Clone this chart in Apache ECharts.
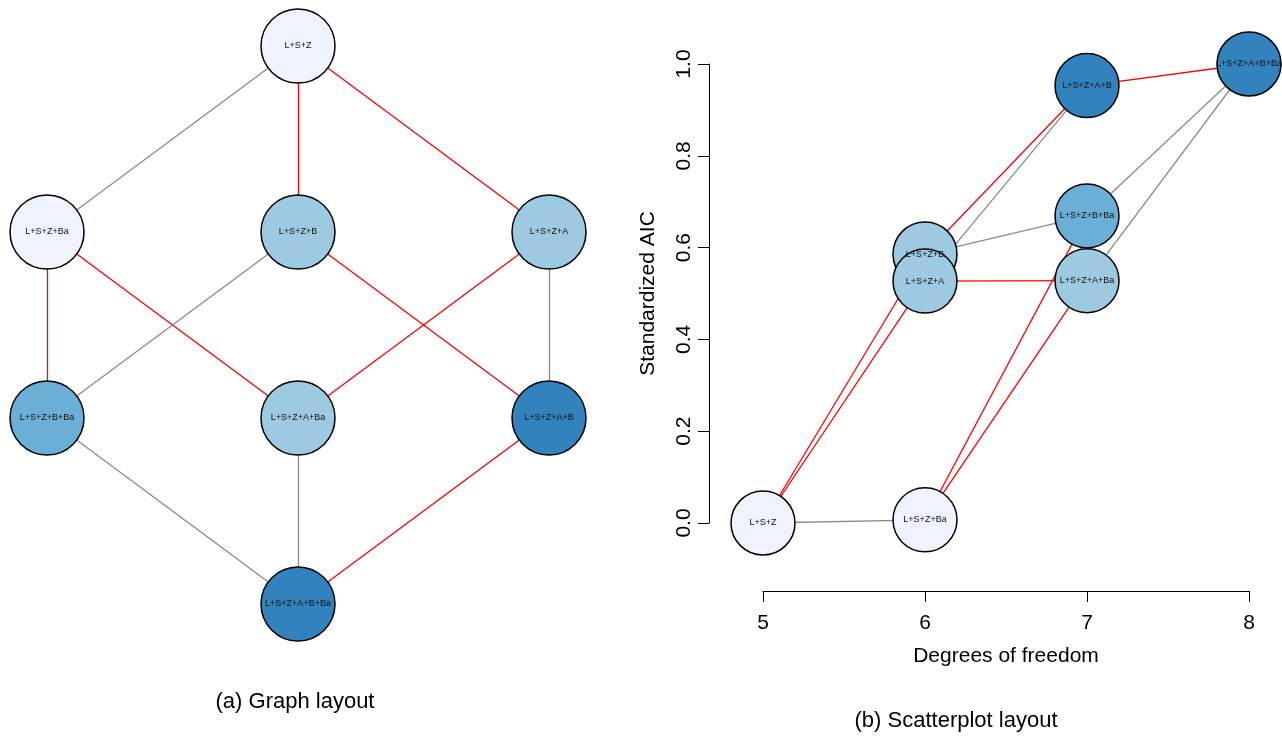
<!DOCTYPE html>
<html>
<head>
<meta charset="utf-8">
<script src="https://cdn.jsdelivr.net/npm/echarts@6/dist/echarts.min.js"></script>
<style>
html,body{margin:0;padding:0;background:#fff;}
#chart{width:1282px;height:736px;}
</style>
</head>
<body>
<div id="chart"></div>
<script>
// ---- data ----
const nodeNames = ['L+S+Z','L+S+Z+Ba','L+S+Z+B','L+S+Z+A','L+S+Z+B+Ba','L+S+Z+A+Ba','L+S+Z+A+B','L+S+Z+A+B+Ba'];
const nodeShade = [0, 0, 1, 1, 2, 1, 3, 3];
// lattice layout (graph layout panel)
const latticeLevel = [0, 1, 1, 1, 2, 2, 2, 3];
const latticeColumn = [1, 0, 1, 2, 0, 1, 2, 1];
// scatterplot layout panel
const degreesOfFreedom = [5, 6, 6, 6, 7, 7, 7, 8];
const standardizedAIC = [0.000, 0.007, 0.586, 0.527, 0.669, 0.528, 0.953, 1.000];
// edges
const edgeSource = [0, 0, 0, 1, 1, 2, 2, 3, 3, 4, 5, 6];
const edgeTarget = [1, 2, 3, 4, 5, 4, 6, 5, 6, 7, 7, 7];
const edgeSignificant = [false, true, true, true, true, false, true, true, false, false, false, true];
const xTicks = [5, 6, 7, 8];
const yTicks = [0, 0.2, 0.4, 0.6, 0.8, 1.0];

// ---- styles ----
const palette = ['#eff3ff', '#9ecae1', '#6baed6', '#3182bd'];
const FONT = "'Liberation Sans', Arial, Helvetica, sans-serif";

function makeNodes(xs, ys) {
  return nodeNames.map((n, i) => ({
    name: n,
    value: [xs[i], ys[i]],
    itemStyle: { color: palette[nodeShade[i]] }
  }));
}
const links = edgeSource.map((s, i) => ({
  source: s, target: edgeTarget[i],
  lineStyle: { color: edgeSignificant[i] ? '#ff0000' : '#8a8a8a', width: 1.3, opacity: 1, curveness: 0 }
}));

const chart = echarts.init(document.getElementById('chart'), null, { renderer: 'canvas' });
const axisBlack = { onZero: false, lineStyle: { color: '#000', width: 1 } };
chart.setOption({
  animation: false,
  backgroundColor: '#fff',
  textStyle: { fontFamily: FONT },
  grid: [
    { left: 47, top: 46, width: 502, height: 558 },
    { left: 763, top: 64, width: 486, height: 459 }
  ],
  xAxis: [
    { gridIndex: 0, type: 'value', min: 0, max: 2, show: false },
    { gridIndex: 1, type: 'value', min: xTicks[0], max: xTicks[xTicks.length - 1], interval: 1,
      offset: 68, position: 'bottom',
      axisLine: axisBlack, axisTick: { show: true, length: 11, lineStyle: { color: '#000' } },
      axisLabel: { fontSize: 21, color: '#000', margin: 22, fontFamily: FONT },
      splitLine: { show: false },
      name: 'Degrees of freedom', nameLocation: 'middle', nameGap: 55,
      nameTextStyle: { fontSize: 21, color: '#000', fontFamily: FONT } }
  ],
  yAxis: [
    { gridIndex: 0, type: 'value', min: 0, max: 3, inverse: true, show: false },
    { gridIndex: 1, type: 'value', min: yTicks[0], max: yTicks[yTicks.length - 1], interval: 0.2,
      offset: 54, position: 'left',
      axisLine: axisBlack, axisTick: { show: true, length: 11, lineStyle: { color: '#000' } },
      axisLabel: { fontSize: 21, color: '#000', margin: 14, rotate: 90, fontFamily: FONT,
        formatter: v => v.toFixed(1) },
      splitLine: { show: false },
      name: 'Standardized AIC', nameLocation: 'middle', nameGap: 50,
      nameTextStyle: { fontSize: 21, color: '#000', fontFamily: FONT } }
  ],
  series: [
    {
      type: 'graph', coordinateSystem: 'cartesian2d', xAxisIndex: 0, yAxisIndex: 0,
      symbol: 'circle', symbolSize: 74, roam: false,
      itemStyle: { borderColor: '#000', borderWidth: 1.5 },
      label: { show: true, position: 'inside', formatter: '{b}', fontSize: 9, color: '#111', fontFamily: FONT },
      emphasis: { disabled: true },
      data: makeNodes(latticeColumn, latticeLevel),
      links: links,
      z: 2
    },
    {
      type: 'graph', coordinateSystem: 'cartesian2d', xAxisIndex: 1, yAxisIndex: 1,
      symbol: 'circle', symbolSize: 64, roam: false,
      itemStyle: { borderColor: '#000', borderWidth: 1.5 },
      label: { show: true, position: 'inside', formatter: '{b}', fontSize: 9, color: '#111', fontFamily: FONT },
      emphasis: { disabled: true },
      data: makeNodes(degreesOfFreedom, standardizedAIC),
      links: links,
      z: 2
    }
  ],
  graphic: [
    { type: 'text', x: 295, y: 702, style: { text: '(a) Graph layout', font: '22px ' + FONT, fill: '#000', align: 'center', verticalAlign: 'middle' } },
    { type: 'text', x: 956, y: 721, style: { text: '(b) Scatterplot layout', font: '22px ' + FONT, fill: '#000', align: 'center', verticalAlign: 'middle' } }
  ]
});
</script>
</body>
</html>
